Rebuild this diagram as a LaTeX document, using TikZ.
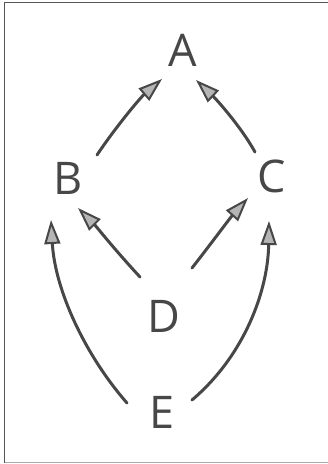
\documentclass[tikz,border=0pt]{standalone}
\usepackage{fontspec}
\setsansfont{Open Sans}
\usetikzlibrary{arrows.meta}
\definecolor{ink}{HTML}{474747}
\definecolor{frame}{HTML}{555555}
\tikzset{
  letter/.style={text=ink, font=\sffamily\fontsize{45}{45}\selectfont, inner sep=0pt},
  edge/.style={draw=ink, line width=3pt, line cap=round,
    -{Triangle[length=24pt, width=16pt, line width=2pt, fill=ink!40]}},
}
\begin{document}
\begin{tikzpicture}[x=1pt,y=-1pt]
\useasboundingbox (0,0) rectangle (328,464);
\fill[white] (0,0) rectangle (328,464);
\draw[frame, line width=1.6pt] (4.5,463) -- (4.5,2.5) -- (328,2.5);
\draw[frame!50, line width=0.8pt] (4.5,462.5) -- (328,462.5);
\node[letter] (A) at (183,50) {A};
\node[letter] (B) at (68,178) {B};
\node[letter] (C) at (272,176) {C};
\node[letter] (D) at (164,316) {D};
\node[letter] (E) at (162,412) {E};
\coordinate (ba0) at (97,155);  \coordinate (ba1) at (162,79);
\coordinate (ca0) at (255,152); \coordinate (ca1) at (196,80);
\coordinate (db0) at (140,277); \coordinate (db1) at (78,208);
\coordinate (dc0) at (192,268); \coordinate (dc1) at (248,198);
\coordinate (eb0) at (127,403); \coordinate (eb1) at (51,220);
\coordinate (ec0) at (192,400); \coordinate (ec1) at (269,221);
\draw[edge] (ba0) .. controls (115,128) and (140,98) .. (ba1);
\draw[edge] (ca0) .. controls (240,125) and (215,98) .. (ca1);
\draw[edge] (db0) .. controls (115,250) and (95,225) .. (db1);
\draw[edge] (dc0) .. controls (210,245) and (230,218) .. (dc1);
\draw[edge] (eb0) .. controls (85,355) and (55,290) .. (eb1);
\draw[edge] (ec0) .. controls (245,355) and (268,290) .. (ec1);
\end{tikzpicture}
\end{document}
